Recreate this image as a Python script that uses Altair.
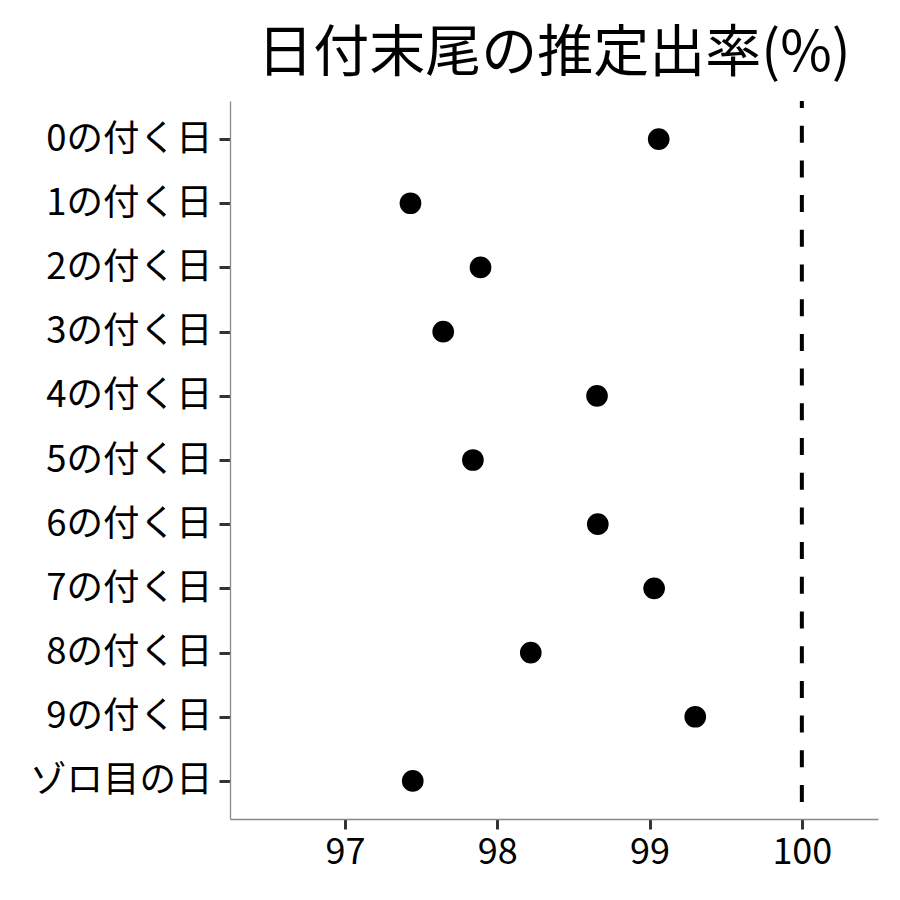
import altair as alt
import pandas as pd

categories = ["0の付く日", "1の付く日", "2の付く日", "3の付く日", "4の付く日",
              "5の付く日", "6の付く日", "7の付く日", "8の付く日", "9の付く日", "ゾロ目の日"]
values = [99.06, 97.43, 97.89, 97.645, 98.655, 97.84, 98.66, 99.03, 98.22, 99.30, 97.445]
ref_value = [100]
x_ticks = [97, 98, 99, 100]

df = pd.DataFrame({"cat": categories, "val": values})
ref = pd.DataFrame({"ref": ref_value})

FONT = "Noto Sans CJK JP"

xscale = alt.Scale(domain=[96.245, 100.5], nice=False, zero=False)

points = alt.Chart(df).mark_circle(size=470, color="black", opacity=1).encode(
    x=alt.X("val:Q", scale=xscale,
            axis=alt.Axis(values=x_ticks, format="d", title=None, grid=False,
                          domainColor="#888888", domainWidth=1.3,
                          tickColor="#333333", tickWidth=3, tickSize=10,
                          labelFontSize=36, labelColor="black", labelFont=FONT,
                          labelPadding=6, labelFlush=False)),
    y=alt.Y("cat:N", sort=categories, scale=alt.Scale(padding=0.593),
            axis=alt.Axis(title=None, grid=False,
                          domainColor="#888888", domainWidth=1.3,
                          tickColor="#333333", tickWidth=3, tickSize=11,
                          labelFontSize=36.5, labelColor="black", labelFont=FONT,
                          labelPadding=7, labelLimit=400)),
)

rule = alt.Chart(ref).mark_rule(color="black", strokeWidth=4,
                                strokeDash=[17, 17.7], strokeDashOffset=10).encode(
    x=alt.X("ref:Q", scale=xscale)
)

chart = alt.layer(rule, points).properties(
    width=648, height=718,
    autosize="none",
    padding={"left": 222, "top": 93, "right": 14, "bottom": 73},
    view=alt.ViewBackground(stroke="transparent", strokeWidth=0),
    title=alt.TitleParams("日付末尾の推定出率(%)", font=FONT, fontSize=56,
                          fontWeight="normal", color="black",
                          anchor="middle", frame="group", offset=16),
).configure_view(strokeWidth=0, stroke="transparent").configure(background="white")

chart.save("out.html", embed_options={"renderer": "svg", "actions": False})
